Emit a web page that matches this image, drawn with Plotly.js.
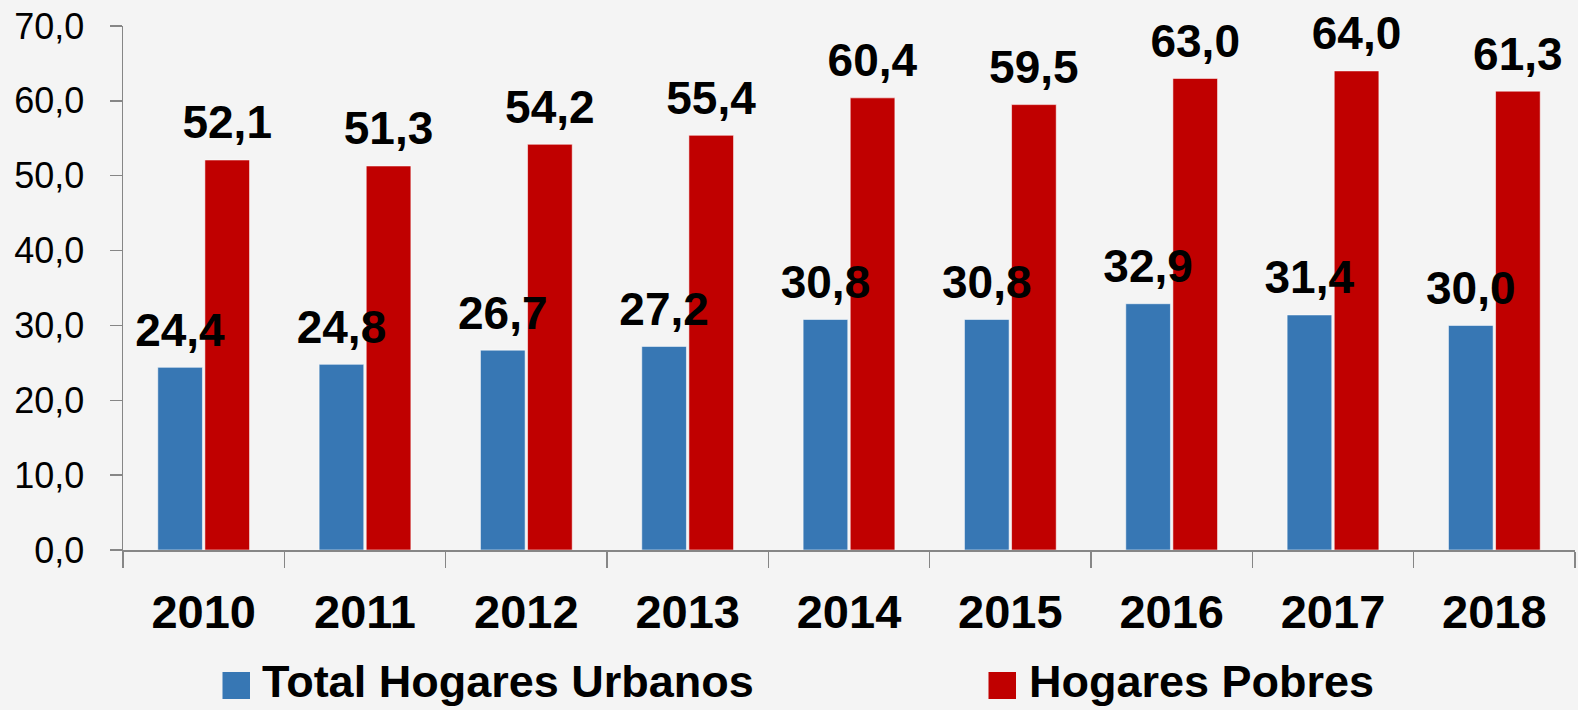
<!DOCTYPE html>
<html>
<head>
<meta charset="utf-8">
<script src="https://cdn.plot.ly/plotly-3.0.1.min.js"></script>
<style>
  html, body { margin: 0; padding: 0; background: #f4f4f4; }
  #chart { width: 1578px; height: 710px; }
</style>
</head>
<body>
<div id="chart"></div>
<script>
// ---- Data ----
const years = ['2010', '2011', '2012', '2013', '2014', '2015', '2016', '2017', '2018'];
const urbanos = [24.4, 24.8, 26.7, 27.2, 30.8, 30.8, 32.9, 31.4, 30.0];
const pobres = [52.1, 51.3, 54.2, 55.4, 60.4, 59.5, 63.0, 64.0, 61.3];
const seriesNames = ['Total Hogares Urbanos', 'Hogares Pobres'];
const seriesColors = ['#3777b4', '#c00000'];
const yTicks = [0, 10, 20, 30, 40, 50, 60, 70];

const FONT = 'Liberation Sans, Arial, sans-serif';
const labelShift = 1.15; // label lift above bar tops, in y units (layout only)

const barStyle = (color) => ({ color: color, line: { color: 'rgba(255,255,255,0.55)', width: 1 } });

const traces = [
  { type: 'bar', name: seriesNames[0], x: years, y: urbanos, marker: barStyle(seriesColors[0]),
    hoverinfo: 'skip', showlegend: false },
  { type: 'bar', name: seriesNames[1], x: years, y: pobres, marker: barStyle(seriesColors[1]),
    hoverinfo: 'skip', showlegend: false },
  // Label layer (transparent, overlay subplot so text sits above all bars)
  { type: 'bar', x: years, y: urbanos, xaxis: 'x2', yaxis: 'y2',
    marker: { color: 'rgba(0,0,0,0)' }, texttemplate: '%{y:.1f}', textposition: 'outside',
    constraintext: 'none', cliponaxis: false, showlegend: false, hoverinfo: 'skip',
    textfont: { family: FONT, size: 46, color: '#000000', weight: 700 } },
  { type: 'bar', x: years, y: pobres, xaxis: 'x2', yaxis: 'y2',
    marker: { color: 'rgba(0,0,0,0)' }, texttemplate: '%{y:.1f}', textposition: 'outside',
    constraintext: 'none', cliponaxis: false, showlegend: false, hoverinfo: 'skip',
    textfont: { family: FONT, size: 46, color: '#000000', weight: 700 } }
];

const L = 123, R = 3, T = 26, B = 160, W = 1578, H = 710;
const pw = W - L - R, ph = H - T - B;
const px2x = (px) => (px - L) / pw;
const py2y = (py) => (H - B - py) / ph;

const legendItems = [
  { sq: [222.5, 250], text: 261 },
  { sq: [988.5, 1016], text: 1028 }
];
const shapes = legendItems.map((it, i) => ({
  type: 'rect', xref: 'paper', yref: 'paper',
  x0: px2x(it.sq[0]), x1: px2x(it.sq[1]), y0: py2y(699), y1: py2y(672),
  fillcolor: seriesColors[i], line: { width: 0 }
}));
const annotations = legendItems.map((it, i) => ({
  xref: 'paper', yref: 'paper', x: px2x(it.text), y: py2y(682),
  xanchor: 'left', yanchor: 'middle', showarrow: false, text: seriesNames[i],
  borderpad: 0,
  font: { family: FONT, size: 45, color: '#000000', weight: 700 }
}));

const axisColor = '#868686';
const layout = {
  width: W, height: H,
  margin: { l: L, r: R, t: T, b: B, pad: 0 },
  paper_bgcolor: '#f4f4f4', plot_bgcolor: '#f4f4f4',
  separators: ',.',
  barmode: 'group', bargap: 0.416, bargroupgap: 0.052,
  showlegend: false,
  xaxis: {
    type: 'category', showline: true, linecolor: axisColor, linewidth: 1.5,
    ticks: 'outside', tickson: 'boundaries', ticklen: 16, tickcolor: axisColor, tickwidth: 1.5,
    showgrid: false, zeroline: false,
    tickfont: { family: FONT, size: 47, color: '#000000', weight: 700 },
    ticklabelstandoff: 20
  },
  yaxis: {
    range: [0, 70], tickvals: yTicks, tickformat: '.1f',
    showline: true, linecolor: axisColor, linewidth: 1.5,
    ticks: 'outside', ticklen: 12, tickcolor: axisColor, tickwidth: 1.5,
    showgrid: false, zeroline: false,
    tickfont: { family: FONT, size: 36, color: '#000000' },
    ticklabelstandoff: 18
  },
  xaxis2: { type: 'category', overlaying: 'x', visible: false, fixedrange: true },
  yaxis2: { overlaying: 'y', visible: false, range: [-labelShift, 70 - labelShift] },
  shapes: shapes,
  annotations: annotations
};

Plotly.newPlot('chart', traces, layout, { displayModeBar: false, staticPlot: true });
</script>
</body>
</html>
